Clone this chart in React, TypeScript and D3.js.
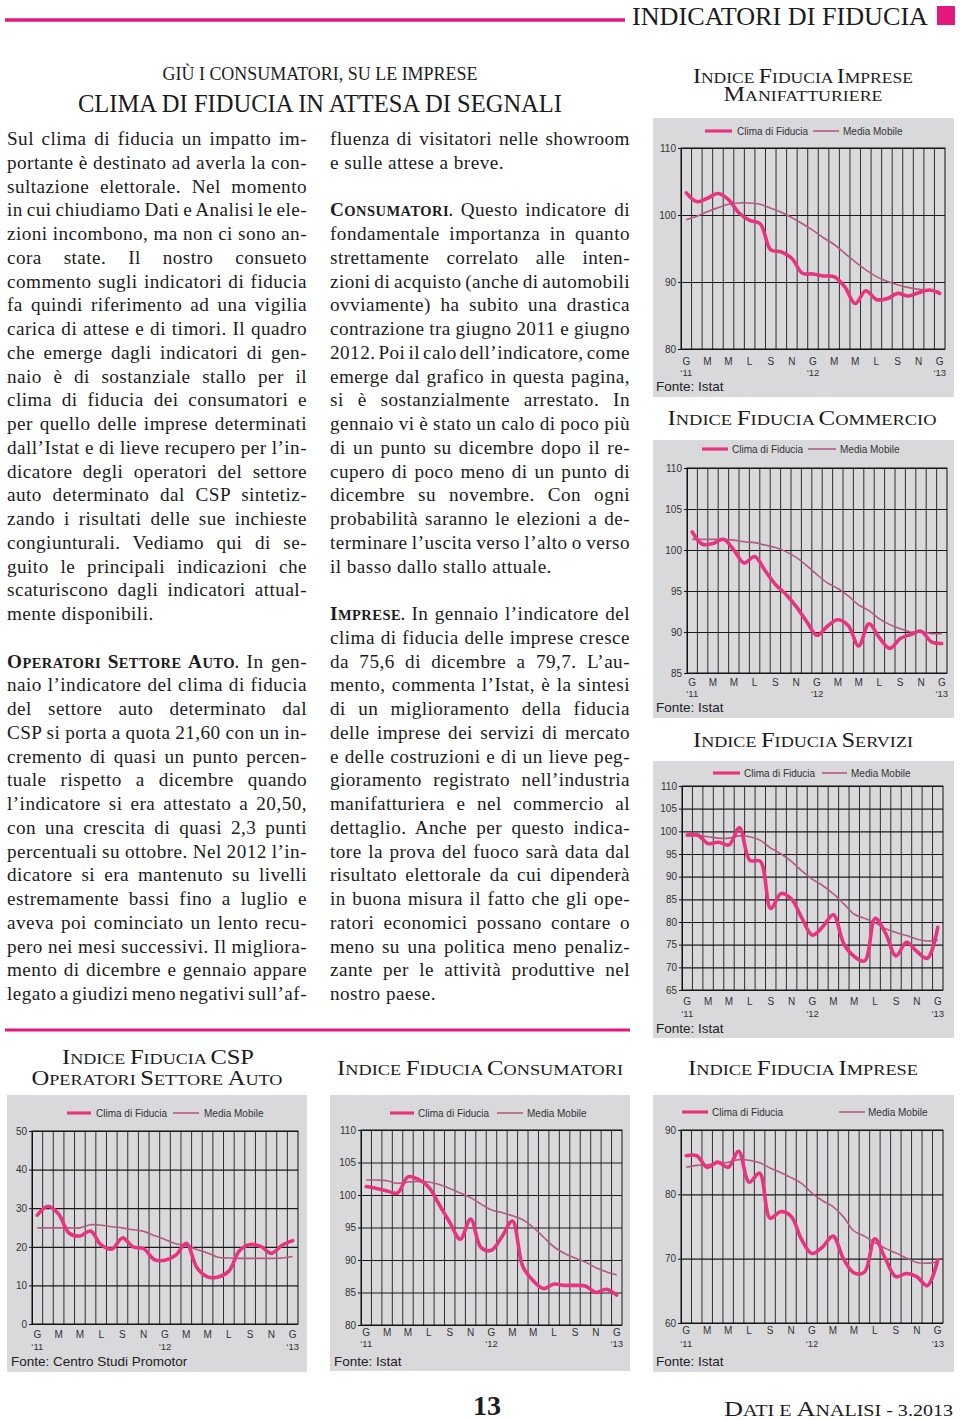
import React, { useEffect, useRef } from "react";
import * as d3 from "d3";

// months Jan 2011 - Jan 2013 (Italian initials)
const months = ["G","F","M","A","M","G","L","A","S","O","N","D","G","F","M","A","M","G","L","A","S","O","N","D","G"];
const yearLabels = ["‘11", "‘12", "‘13"];

const manifClima = [103.3, 102.0, 102.5, 103.2, 102.3, 100.3, 99.2, 98.7, 94.8, 94.5, 93.5, 91.3, 91.2, 90.9, 90.8, 89.3, 86.8, 88.7, 87.4, 87.5, 88.3, 87.9, 88.4, 88.8, 88.3];
const manifMedia = [99.3, 99.8, 100.5, 101.1, 101.6, 101.8, 101.8, 101.6, 101.0, 100.4, 99.6, 98.7, 97.7, 96.6, 95.6, 94.3, 93.0, 91.8, 90.8, 90.1, 89.6, 89.2, 88.9, 88.8, 88.6];
const manifTicks = [80, 90, 100, 110];

const commClima = [102.2, 100.7, 100.8, 101.3, 100.0, 98.4, 99.2, 97.5, 95.8, 94.6, 93.1, 91.3, 89.6, 90.7, 91.5, 90.8, 88.3, 91.0, 89.3, 88.0, 89.2, 89.7, 90.1, 88.8, 88.6];
const commMedia = [101.3, 101.3, 101.3, 101.3, 101.2, 101.0, 100.9, 100.6, 100.3, 99.8, 99.1, 98.1, 97.0, 96.0, 95.3, 94.4, 93.3, 92.6, 91.6, 90.9, 90.4, 90.0, 90.0, 89.8, 89.8];
const commTicks = [85, 90, 95, 100, 105, 110];

const servClima = [99.2, 99.2, 97.3, 97.6, 97.0, 100.8, 93.6, 93.4, 83.0, 86.3, 85.0, 80.8, 77.1, 79.0, 81.6, 75.2, 72.4, 71.4, 80.8, 77.5, 72.5, 75.5, 73.5, 72.0, 78.8];
const servMedia = [99.0, 99.0, 98.8, 98.5, 98.5, 99.0, 98.8, 98.0, 96.3, 95.0, 93.3, 91.2, 89.4, 88.0, 86.2, 84.0, 81.7, 80.8, 79.8, 78.5, 77.7, 77.0, 76.2, 75.8, 76.0];
const servTicks = [65, 70, 75, 80, 85, 90, 95, 100, 105, 110];

const cspClima = [28.2, 30.5, 28.5, 23.5, 22.8, 24.1, 20.5, 19.4, 22.3, 20.0, 19.5, 16.7, 16.5, 17.8, 20.9, 14.6, 12.2, 12.2, 13.7, 19.0, 20.6, 20.1, 18.3, 20.4, 21.6];
const cspMedia = [24.9, 24.9, 24.9, 24.9, 24.9, 25.7, 25.6, 25.2, 24.9, 24.4, 24.0, 22.9, 21.9, 20.8, 20.2, 19.3, 18.4, 17.3, 17.1, 17.0, 17.0, 17.0, 17.0, 17.1, 17.5];
const cspTicks = [0, 10, 20, 30, 40, 50];

const consClima = [101.3, 101.0, 100.6, 100.3, 102.8, 102.4, 101.2, 98.5, 95.8, 93.2, 96.3, 91.9, 91.5, 93.6, 96.0, 89.0, 86.8, 85.6, 86.3, 86.1, 86.1, 86.0, 85.0, 85.5, 84.6];
const consMedia = [102.3, 102.3, 102.2, 101.8, 102.0, 102.1, 102.0, 101.6, 101.0, 100.3, 99.6, 98.6, 97.7, 97.3, 96.8, 96.2, 95.0, 93.5, 92.0, 91.0, 90.3, 89.7, 88.8, 88.2, 87.7];
const consTicks = [80, 85, 90, 95, 100, 105, 110];

const impClima = [86.0, 86.0, 84.2, 85.0, 84.2, 86.7, 81.9, 83.3, 76.3, 77.3, 76.6, 73.0, 70.8, 71.8, 73.5, 70.0, 67.8, 67.9, 73.1, 70.0, 67.2, 67.7, 67.2, 65.8, 69.8];
const impMedia = [84.2, 84.5, 84.6, 84.8, 85.0, 85.4, 85.3, 84.9, 84.1, 83.4, 82.6, 81.7, 80.2, 79.0, 78.1, 76.5, 74.3, 73.5, 72.5, 71.6, 70.9, 70.1, 69.4, 69.3, 69.5];
const impTicks = [60, 70, 80, 90];

const leftText = [
  "Sul clima di fiducia un impatto im-",
  "portante è destinato ad averla la con-",
  "sultazione elettorale. Nel momento",
  "in cui chiudiamo Dati e Analisi le ele-",
  "zioni incombono, ma non ci sono an-",
  "cora state. Il nostro consueto",
  "commento sugli indicatori di fiducia",
  "fa quindi riferimento ad una vigilia",
  "carica di attese e di timori. Il quadro",
  "che emerge dagli indicatori di gen-",
  "naio è di sostanziale stallo per il",
  "clima di fiducia dei consumatori e",
  "per quello delle imprese determinati",
  "dall’Istat e di lieve recupero per l’in-",
  "dicatore degli operatori del settore",
  "auto determinato dal CSP sintetiz-",
  "zando i risultati delle sue inchieste",
  "congiunturali. Vediamo qui di se-",
  "guito le principali indicazioni che",
  "scaturiscono dagli indicatori attual-",
  "mente disponibili.¶",
  "",
  "^Operatori Settore Auto.^ In gen-",
  "naio l’indicatore del clima di fiducia",
  "del settore auto determinato dal",
  "CSP si porta a quota 21,60 con un in-",
  "cremento di quasi un punto percen-",
  "tuale rispetto a dicembre quando",
  "l’indicatore si era attestato a 20,50,",
  "con una crescita di quasi 2,3 punti",
  "percentuali su ottobre. Nel 2012 l’in-",
  "dicatore si era mantenuto su livelli",
  "estremamente bassi fino a luglio e",
  "aveva poi cominciato un lento recu-",
  "pero nei mesi successivi. Il migliora-",
  "mento di dicembre e gennaio appare",
  "legato a giudizi meno negativi sull’af-",
];

const midText = [
  "fluenza di visitatori nelle showroom",
  "e sulle attese a breve.¶",
  "",
  "^Consumatori.^ Questo indicatore di",
  "fondamentale importanza in quanto",
  "strettamente correlato alle inten-",
  "zioni di acquisto (anche di automobili",
  "ovviamente) ha subito una drastica",
  "contrazione tra giugno 2011 e giugno",
  "2012. Poi il calo dell’indicatore, come",
  "emerge dal grafico in questa pagina,",
  "si è sostanzialmente arrestato. In",
  "gennaio vi è stato un calo di poco più",
  "di un punto su dicembre dopo il re-",
  "cupero di poco meno di un punto di",
  "dicembre su novembre. Con ogni",
  "probabilità saranno le elezioni a de-",
  "terminare l’uscita verso l’alto o verso",
  "il basso dallo stallo attuale.¶",
  "",
  "^Imprese.^ In gennaio l’indicatore del",
  "clima di fiducia delle imprese cresce",
  "da 75,6 di dicembre a 79,7. L’au-",
  "mento, commenta l’Istat, è la sintesi",
  "di un miglioramento della fiducia",
  "delle imprese dei servizi di mercato",
  "e delle costruzioni e di un lieve peg-",
  "gioramento registrato nell’industria",
  "manifatturiera e nel commercio al",
  "dettaglio. Anche per questo indica-",
  "tore la prova del fuoco sarà data dal",
  "risultato elettorale da cui dipenderà",
  "in buona misura il fatto che gli ope-",
  "ratori economici possano contare o",
  "meno su una politica meno penaliz-",
  "zante per le attività produttive nel",
  "nostro paese.¶",
];

const PINK = "#e2187f";
const CLIMA = "#e6347f";
const MEDIA = "#b35a82";
const PANEL = "#d9d9db";
const SANS = "'Liberation Sans', Arial, sans-serif";
const SERIF = "'Liberation Serif', 'Times New Roman', serif";

const charts = [
  { clima: manifClima, media: manifMedia, ticks: manifTicks, panel: [653, 118, 301, 279], plot: [681, 148, 945, 349], legY: 131, leg: [705, 732, 737, 813, 839, 843], xLabY: 365, yearY: 376, fonte: [656, 391], source: "Fonte: Istat" },
  { clima: commClima, media: commMedia, ticks: commTicks, panel: [653, 440, 301, 278], plot: [687, 468, 947, 673], legY: 449, leg: [702, 728, 732, 808, 836, 840], xLabY: 686, yearY: 697, fonte: [656, 712], source: "Fonte: Istat" },
  { clima: servClima, media: servMedia, ticks: servTicks, panel: [653, 761, 301, 277], plot: [682, 786, 943, 990], legY: 773, leg: [713, 740, 744, 822, 847, 851], xLabY: 1005, yearY: 1017, fonte: [656, 1033], source: "Fonte: Istat" },
  { clima: cspClima, media: cspMedia, ticks: cspTicks, panel: [7, 1095, 300, 277], plot: [32, 1131, 298, 1324], legY: 1113, leg: [67, 91, 96, 173, 199, 204], xLabY: 1338, yearY: 1350, fonte: [11, 1366], source: "Fonte: Centro Studi Promotor" },
  { clima: consClima, media: consMedia, ticks: consTicks, panel: [330, 1095, 300, 276], plot: [361, 1130, 622, 1325], legY: 1113, leg: [390, 414, 418, 497, 523, 527], xLabY: 1336, yearY: 1347, fonte: [334, 1366], source: "Fonte: Istat" },
  { clima: impClima, media: impMedia, ticks: impTicks, panel: [653, 1095, 301, 277], plot: [681, 1130, 943, 1323], legY: 1112, leg: [682, 708, 712, 839, 865, 868], xLabY: 1334, yearY: 1347, fonte: [656, 1366], source: "Fonte: Istat" },
];

function Chart({ c }: { c: any }) {
  const ref = useRef<SVGGElement>(null);
  useEffect(() => {
    const g = d3.select(ref.current);
    g.selectAll("*").remove();
    const [px, py, pw, ph] = c.panel;
    const [l, t, r, b] = c.plot;
    g.append("rect").attr("x", px).attr("y", py).attr("width", pw).attr("height", ph).attr("fill", PANEL);

    const x = d3.scaleBand<number>().domain(months.map((_, i) => i)).range([l, r]);
    const y = d3.scaleLinear().domain(d3.extent(c.ticks) as [number, number]).range([b, t]);
    const cx = (i: number) => (x(i) as number) + x.bandwidth() / 2;

    // vertical grid at month boundaries
    g.append("g").selectAll("line").data(months.map((_, i) => i).slice(1)).join("line")
      .attr("x1", (i) => x(i) as number).attr("x2", (i) => x(i) as number)
      .attr("y1", t).attr("y2", b).attr("stroke", "#2e2e2e").attr("stroke-width", 1);

    // horizontal grid
    const grid = g.append("g").attr("transform", `translate(${l},0)`)
      .call(d3.axisLeft(y).tickValues(c.ticks).tickSize(-(r - l)).tickFormat(() => ""));
    grid.select(".domain").remove();
    grid.selectAll(".tick line").attr("stroke", "#1a1a1a").attr("stroke-width", 1.2);

    const ya = g.append("g").attr("transform", `translate(${l},0)`)
      .call(d3.axisLeft(y).tickValues(c.ticks).tickSize(3).tickPadding(2));
    ya.select(".domain").attr("stroke", "#111");
    ya.selectAll(".tick line").attr("stroke", "#111");
    ya.selectAll("text").attr("font-family", SANS).attr("font-size", 10).attr("fill", "#333");

    g.append("rect").attr("x", l).attr("y", t).attr("width", r - l).attr("height", b - t)
      .attr("fill", "none").attr("stroke", "#111").attr("stroke-width", 1);

    // x labels, every other month
    g.append("g").selectAll("text").data(months.map((_, i) => i).filter((i) => i % 2 === 0)).join("text")
      .attr("x", cx).attr("y", c.xLabY).attr("text-anchor", "middle")
      .attr("font-family", SANS).attr("font-size", 10).attr("fill", "#333")
      .text((i) => months[i]);
    g.append("g").selectAll("text").data(yearLabels).join("text")
      .attr("x", (_, k) => cx(k * 12)).attr("y", c.yearY).attr("text-anchor", "middle")
      .attr("font-family", SANS).attr("font-size", 9.5).attr("fill", "#333")
      .text((d) => d);

    const line = d3.line<number>().x((_, i) => cx(i)).y((v) => y(v)).curve(d3.curveCatmullRom.alpha(0.5));
    g.append("path").attr("d", line(c.media)).attr("fill", "none").attr("stroke", MEDIA).attr("stroke-width", 1.6);
    g.append("path").attr("d", line(c.clima)).attr("fill", "none").attr("stroke", CLIMA)
      .attr("stroke-width", 3.6).attr("stroke-linejoin", "round").attr("stroke-linecap", "round");

    // legend
    const [a1, a2, t1, b1, b2, t2] = c.leg;
    g.append("line").attr("x1", a1).attr("x2", a2).attr("y1", c.legY).attr("y2", c.legY).attr("stroke", CLIMA).attr("stroke-width", 3.2);
    g.append("line").attr("x1", b1).attr("x2", b2).attr("y1", c.legY).attr("y2", c.legY).attr("stroke", MEDIA).attr("stroke-width", 1.6);
    g.append("text").attr("x", t1).attr("y", c.legY + 3.5).attr("font-family", SANS).attr("font-size", 10).attr("fill", "#333").text("Clima di Fiducia");
    g.append("text").attr("x", t2).attr("y", c.legY + 3.5).attr("font-family", SANS).attr("font-size", 10).attr("fill", "#333").text("Media Mobile");

    g.append("text").attr("x", c.fonte[0]).attr("y", c.fonte[1]).attr("font-family", SANS).attr("font-size", 13.5).attr("fill", "#222").text(c.source);
  }, [c]);
  return <g ref={ref} />;
}

function appendSmallCaps(sel: any, str: string, big: number, small: number, weight: string) {
  const runs: { up: boolean; s: string }[] = [];
  for (const ch of str) {
    const up = ch !== ch.toLowerCase();
    const last = runs[runs.length - 1];
    if (last && last.up === up) last.s += ch;
    else runs.push({ up, s: ch });
  }
  runs.forEach((rn) => {
    sel.append("tspan").attr("font-size", rn.up ? big : small).attr("font-weight", weight).text(rn.s.toUpperCase());
  });
}

function BodyColumn({ lines, x0, width }: { lines: string[]; x0: number; width: number }) {
  const ref = useRef<SVGGElement>(null);
  useEffect(() => {
    const g = d3.select(ref.current);
    g.selectAll("*").remove();
    lines.forEach((raw, k) => {
      if (!raw) return;
      const justify = !raw.endsWith("¶");
      const s = raw.replace("¶", "");
      const text = g.append("text").attr("x", x0).attr("y", 145 + k * 23.75)
        .attr("font-family", SERIF).attr("font-size", 19.2).attr("letter-spacing", 0.45)
        .attr("fill", "#1b1b1b").style("white-space", "pre");
      s.split("^").forEach((p, j) => {
        if (!p) return;
        if (j % 2 === 1) appendSmallCaps(text, p, 19.2, 14.5, "bold");
        else text.append("tspan").text(p);
      });
      if (justify) {
        const w = (text.node() as SVGTextElement).getComputedTextLength();
        const spaces = (s.match(/ /g) || []).length;
        if (spaces > 0) text.attr("word-spacing", (width - w) / spaces);
      }
    });
  }, [lines, x0, width]);
  return <g ref={ref} />;
}

function sc(str: string, big: number, small: number) {
  const runs: { up: boolean; s: string }[] = [];
  for (const ch of str) {
    const up = ch !== ch.toLowerCase();
    const last = runs[runs.length - 1];
    if (last && last.up === up) last.s += ch;
    else runs.push({ up, s: ch });
  }
  return runs.map((rn, i) => (
    <tspan key={i} fontSize={rn.up ? big : small}>{rn.s.toUpperCase()}</tspan>
  ));
}

const headings = [
  { s: "Indice Fiducia Imprese", x: 803, y: 83, w: 220 },
  { s: "Manifatturiere", x: 803, y: 101, w: 159 },
  { s: "Indice Fiducia Commercio", x: 802, y: 425, w: 269 },
  { s: "Indice Fiducia Servizi", x: 803, y: 747, w: 220 },
  { s: "Indice Fiducia CSP", x: 158, y: 1064, w: 192 },
  { s: "Operatori Settore Auto", x: 157, y: 1085, w: 251 },
  { s: "Indice Fiducia Consumatori", x: 480, y: 1075, w: 286 },
  { s: "Indice Fiducia Imprese", x: 803, y: 1075, w: 230 },
];

export default function App() {
  return (
    <div style={{ position: "absolute", left: 0, top: 0 }}>
      <svg width={960} height={1420} style={{ display: "block", background: "#fff" }}>
        <line x1={5} x2={625} y1={20} y2={20} stroke={PINK} strokeWidth={3.5} />
        <text x={632} y={25} fontFamily={SERIF} fontSize={26} fill="#1b1b1b" textLength={296} lengthAdjust="spacingAndGlyphs">INDICATORI DI FIDUCIA</text>
        <rect x={937} y={6} width={18} height={19} fill={PINK} />

        <text x={320} y={80} textAnchor="middle" fontFamily={SERIF} fontSize={18} fill="#1b1b1b" textLength={315} lengthAdjust="spacingAndGlyphs">GIÙ I CONSUMATORI, SU LE IMPRESE</text>
        <text x={320} y={112} textAnchor="middle" fontFamily={SERIF} fontSize={25} fill="#1b1b1b" textLength={484} lengthAdjust="spacingAndGlyphs">CLIMA DI FIDUCIA IN ATTESA DI SEGNALI</text>

        <BodyColumn lines={leftText} x0={7} width={300} />
        <BodyColumn lines={midText} x0={330} width={300} />

        <line x1={5} x2={630} y1={1030} y2={1030} stroke={PINK} strokeWidth={3} />

        {headings.map((h, i) => (
          <text key={i} x={h.x} y={h.y} textAnchor="middle" fontFamily={SERIF} fill="#1b1b1b" textLength={h.w} lengthAdjust="spacingAndGlyphs">
            {sc(h.s, 21, 15.5)}
          </text>
        ))}

        {charts.map((c, i) => <Chart key={i} c={c} />)}

        <text x={487} y={1415} textAnchor="middle" fontFamily={SERIF} fontWeight="bold" fontSize={28} fill="#1b1b1b">13</text>
        <text x={724} y={1416} fontFamily={SERIF} fill="#1b1b1b" textLength={229} lengthAdjust="spacingAndGlyphs">{sc("Dati e Analisi - 3.2013", 21, 16)}</text>
      </svg>
    </div>
  );
}
